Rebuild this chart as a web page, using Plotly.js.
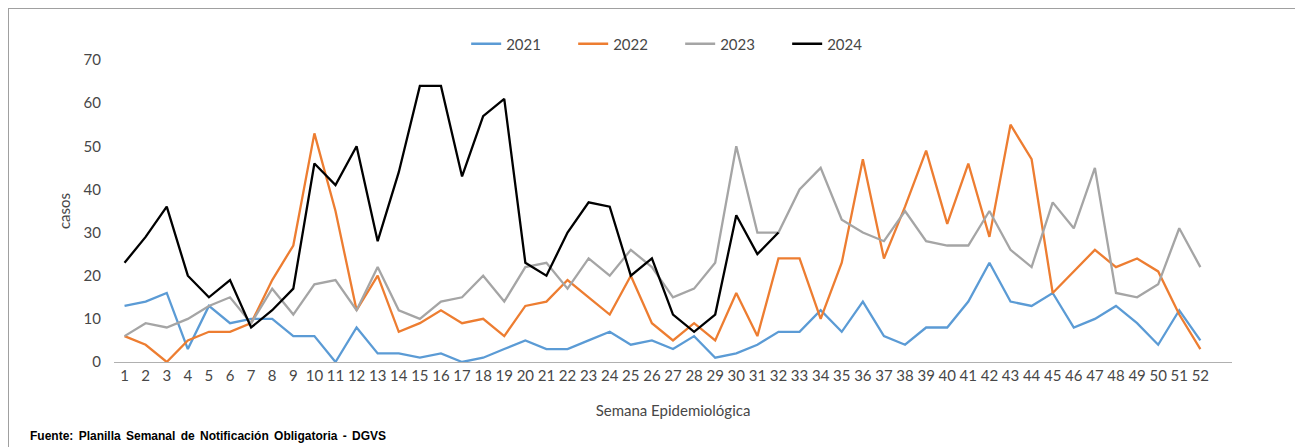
<!DOCTYPE html>
<html>
<head>
<meta charset="utf-8">
<script src="https://cdn.plot.ly/plotly-3.0.1.min.js"></script>
<style>
    body { margin: 0; background: #fff; }
    #wrap { position: relative; width: 1295px; height: 447px; overflow: hidden; }
    #chart { width: 1295px; height: 447px; }
    #frame {
        position: absolute; left: 8px; top: 8px; width: 1400px; height: 500px;
        border-left: 1px solid #a0a0a0; border-top: 1px solid #a0a0a0;
        pointer-events: none;
    }
    #source {
        position: absolute; left: 30px; top: 429px;
        font: bold 12px "Liberation Sans", Arial, sans-serif; color: #000;
        word-spacing: 2px;
    }
</style>
</head>
<body>
<div id="wrap">
    <div id="chart"></div>
    <div id="frame"></div>
    <div id="source">Fuente: Planilla Semanal de Notificación Obligatoria - DGVS</div>
</div>
<script>
// Semana epidemiológica 1..52
const weeks = Array.from({ length: 52 }, (_, i) => i + 1)

const casos2021 = [13, 14, 16, 3, 13, 9, 10, 10, 6, 6, 0, 8, 2, 2, 1, 2, 0, 1, 3, 5,
    3, 3, 5, 7, 4, 5, 3, 6, 1, 2, 4, 7, 7, 12, 7, 14, 6, 4, 8, 8,
    14, 23, 14, 13, 16, 8, 10, 13, 9, 4, 12, 5]

const casos2022 = [6, 4, 0, 5, 7, 7, 9, 19, 27, 53, 35, 12, 20, 7, 9, 12, 9, 10, 6, 13,
    14, 19, 15, 11, 20, 9, 5, 9, 5, 16, 6, 24, 24, 10, 23, 47, 24, 36, 49, 32,
    46, 29, 55, 47, 16, 21, 26, 22, 24, 21, 11, 3]

const casos2023 = [6, 9, 8, 10, 13, 15, 9, 17, 11, 18, 19, 12, 22, 12, 10, 14, 15, 20, 14, 22,
    23, 17, 24, 20, 26, 22, 15, 17, 23, 50, 30, 30, 40, 45, 33, 30, 28, 35, 28, 27,
    27, 35, 26, 22, 37, 31, 45, 16, 15, 18, 31, 22]

// 2024 only up to week 32
const casos2024 = [23, 29, 36, 20, 15, 19, 8, 12, 17, 46, 41, 50, 28, 44, 64, 64, 43, 57, 61, 23,
    20, 30, 37, 36, 20, 24, 11, 7, 11, 34, 25, 30]

const series = [
    { name: '2021', y: casos2021, color: '#5B9BD5' },
    { name: '2022', y: casos2022, color: '#ED7D31' },
    { name: '2023', y: casos2023, color: '#A5A5A5' },
    { name: '2024', y: casos2024, color: '#000000' }
]

const font = 'Lato, "Open Sans", sans-serif'
const textColor = '#474747'

const traces = series.map(s => ({
    x: weeks.slice(0, s.y.length),
    y: s.y,
    type: 'scatter',
    mode: 'lines',
    name: s.name,
    line: { color: s.color, width: 2.3 }
}))

const layout = {
    width: 1295,
    height: 447,
    paper_bgcolor: '#ffffff',
    plot_bgcolor: '#ffffff',
    font: { family: font, size: 15, color: textColor },
    margin: { l: 114, r: 63, t: 60, b: 85 },
    showlegend: true,
    legend: {
        orientation: 'h',
        x: 0.315, xanchor: 'left',
        y: 1.053, yanchor: 'middle',
        entrywidth: 62, entrywidthmode: 'pixels',
        font: { family: font, size: 15, color: textColor }
    },
    xaxis: {
        range: [0.5, 53.5],
        tickvals: weeks,
        ticktext: weeks.map(String),
        showgrid: false,
        zeroline: false,
        showline: true,
        linecolor: '#b0b0b0',
        linewidth: 1.3,
        ticks: '',
        ticklen: 0,
        tickfont: { family: font, size: 15, color: textColor },
        title: { text: 'Semana Epidemiológica', font: { family: font, size: 15, color: textColor }, standoff: 22 }
    },
    yaxis: {
        range: [0, 70],
        dtick: 10,
        showgrid: false,
        zeroline: false,
        showline: false,
        ticks: '',
        ticklabelstandoff: 12,
        tickfont: { family: font, size: 15, color: textColor },
        title: { text: 'casos', font: { family: font, size: 15, color: textColor }, standoff: 9 }
    }
}

Plotly.newPlot('chart', traces, layout, { displayModeBar: false, staticPlot: true })
</script>
</body>
</html>
